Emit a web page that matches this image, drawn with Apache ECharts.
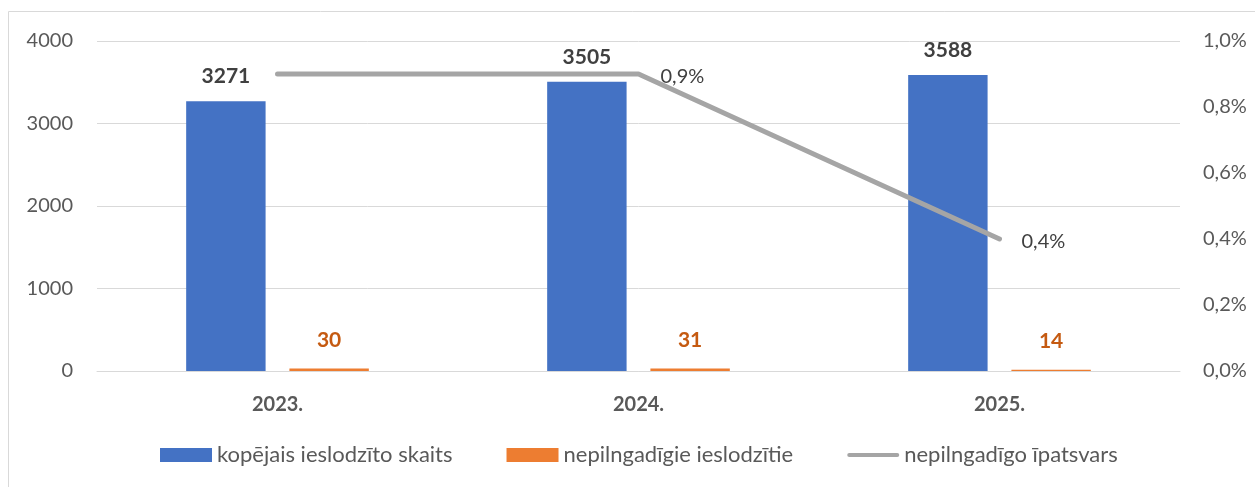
<!DOCTYPE html>
<html>
<head>
<meta charset="utf-8">
<script src="https://cdn.jsdelivr.net/npm/echarts@6/dist/echarts.min.js"></script>
<style>
html,body{margin:0;padding:0;background:#fff;}
#c{width:1255px;height:487px;}
</style>
</head>
<body>
<div id="c"></div>
<script>
const categories = ['2023.', '2024.', '2025.'];
const totalPrisoners = [3271, 3505, 3588];
const minorPrisoners = [30, 31, 14];
const minorShare = [0.9, 0.9, 0.4];
const seriesNames = ['kopējais ieslodzīto skaits', 'nepilngadīgie ieslodzītie', 'nepilngadīgo īpatsvars'];

const FONT = 'Lato';
const chart = echarts.init(document.getElementById('c'), null, {renderer: 'canvas'});
const pct = v => v.toFixed(1).replace('.', ',') + '%';

chart.setOption({
  animation: false,
  textStyle: {fontFamily: FONT},
  graphic: [{
    type: 'rect', silent: true,
    shape: {x: 8.5, y: 11.5, width: 1400, height: 600},
    style: {fill: 'none', stroke: '#D9D9D9', lineWidth: 1}
  }],
  grid: {left: 97, right: 75, top: 41, bottom: 116, containLabel: false},
  legend: {
    left: 155, top: 439,
    itemWidth: 52, itemHeight: 14, itemGap: 54,
    symbolKeepAspect: true,
    textStyle: {fontFamily: FONT, fontSize: 22, color: '#595959'},
    data: [
      {name: seriesNames[0], icon: 'rect'},
      {name: seriesNames[1], icon: 'rect'},
      {name: seriesNames[2],
       icon: 'path://M2,0 L50,0 A2,2 0 0 1 50,4 L2,4 A2,2 0 0 1 2,0 Z',
       itemStyle: {color: '#A5A5A5', opacity: 1}}
    ]
  },
  xAxis: {
    type: 'category', data: categories,
    axisLine: {lineStyle: {color: '#D9D9D9'}},
    axisTick: {show: false},
    axisLabel: {margin: 24, fontFamily: FONT, fontSize: 20, fontWeight: 'bold', color: '#595959'}
  },
  yAxis: [{
    type: 'value', min: 0, max: 4000, interval: 1000,
    axisLine: {show: false}, axisTick: {show: false},
    splitLine: {lineStyle: {color: '#D9D9D9', width: 1}},
    axisLabel: {margin: 24, fontFamily: FONT, fontSize: 20, color: '#595959', formatter: v => String(v)}
  }, {
    type: 'value', min: 0, max: 1.0, interval: 0.2,
    axisLine: {show: false}, axisTick: {show: false},
    splitLine: {show: false},
    axisLabel: {margin: 23, fontFamily: FONT, fontSize: 20, color: '#595959', formatter: pct}
  }],
  series: [{
    name: seriesNames[0], type: 'bar', data: totalPrisoners,
    barWidth: '22%', barGap: '30%',
    itemStyle: {color: '#4472C4'},
    label: {show: true, position: 'top', distance: 14, fontFamily: FONT, fontSize: 21, fontWeight: 'bold', color: '#404040'}
  }, {
    name: seriesNames[1], type: 'bar', data: minorPrisoners,
    barWidth: '22%',
    itemStyle: {color: '#ED7D31'},
    label: {show: true, position: 'top', distance: 18, fontFamily: FONT, fontSize: 21, fontWeight: 'bold', color: '#C55A11'}
  }, {
    name: seriesNames[2], type: 'line', yAxisIndex: 1,
    data: minorShare.map((v, i) => ({value: v, label: {show: i > 0}})),
    showSymbol: true, symbol: 'circle', symbolSize: 0,
    lineStyle: {color: '#A5A5A5', width: 5, cap: 'round', join: 'round'},
    itemStyle: {color: '#A5A5A5'},
    label: {show: true, position: 'right', distance: 22, offset: [0, 3], fontFamily: FONT, fontSize: 20, color: '#404040',
      formatter: p => pct(p.value)}
  }]
});
</script>
</body>
</html>
